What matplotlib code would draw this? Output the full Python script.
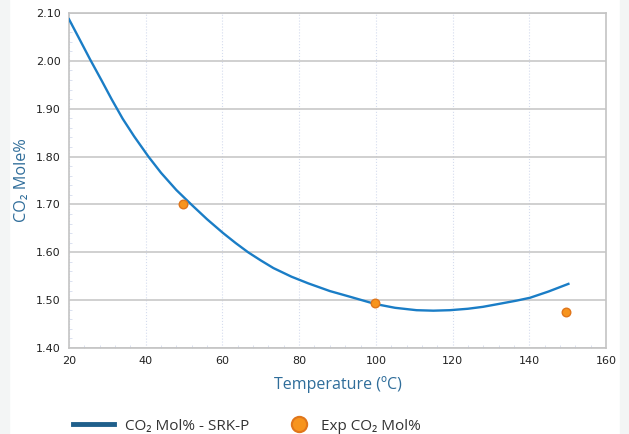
import numpy as np
import matplotlib.pyplot as plt
from matplotlib.ticker import MultipleLocator, FormatStrFormatter
from matplotlib.lines import Line2D
from matplotlib.patches import Rectangle

# SRK-P model curve
temp_model = [20, 22.5, 25.5, 28.5, 31.1, 34, 37, 40.7, 44, 48, 52, 56,
              60.2, 63.5, 66.7, 70, 73.3, 78, 82.4, 88, 93.3, 99.8, 105,
              110.6, 115, 119.3, 124, 127.9, 132, 136.7, 140.2, 145, 150.2]
co2_model = [2.087, 2.049, 2.003, 1.959, 1.920, 1.879, 1.842, 1.80, 1.766,
             1.730, 1.699, 1.669, 1.640, 1.619, 1.60, 1.583, 1.567, 1.549,
             1.535, 1.519, 1.507, 1.492, 1.484, 1.479, 1.478, 1.479, 1.482,
             1.486, 1.492, 1.499, 1.505, 1.518, 1.534]

# experimental points
temp_exp = [49.7, 99.8, 149.7]
co2_exp = [1.701, 1.495, 1.475]

line_col = '#1a7dc6'
legend_line_col = '#1f5f8b'
dot_face = '#f7941d'
dot_edge = '#e0761b'
label_col = '#2f6d9a'
fonts = ['Open Sans', 'DejaVu Sans']

fig = plt.figure(figsize=(6.29, 4.34), dpi=100)
fig.patches.append(Rectangle((0, 0), 9/629, 1, transform=fig.transFigure,
                             color='#f3f5f5', zorder=0))
fig.patches.append(Rectangle((620/629, 0), 9/629, 1, transform=fig.transFigure,
                             color='#f3f5f5', zorder=0))

ax = fig.add_axes([69/629, 86/434, 537/629, 335/434])
ax.plot(temp_model, co2_model, color=line_col, lw=1.7, zorder=3)
ax.scatter(temp_exp, co2_exp, s=38, color=dot_face, edgecolor=dot_edge,
           linewidth=1, zorder=4)

ax.set_xlim(20, 160)
ax.set_ylim(1.40, 2.10)
ax.xaxis.set_major_locator(MultipleLocator(20))
ax.xaxis.set_minor_locator(MultipleLocator(4))
ax.yaxis.set_major_locator(MultipleLocator(0.1))
ax.yaxis.set_minor_locator(MultipleLocator(0.02))
ax.yaxis.set_major_formatter(FormatStrFormatter('%.2f'))

ax.grid(axis='y', which='major', color='#c8c8c8', lw=1.2)
ax.grid(axis='x', which='major', color='#d5dcee', lw=0.8, ls=':')
for s in ax.spines.values():
    s.set_color('#c4c4c4')
    s.set_linewidth(1.2)
ax.tick_params(which='major', length=0, labelsize=8, colors='#222222', pad=6)
ax.tick_params(which='minor', direction='in', length=2, color='#d5dcee')

ax.set_xlabel('Temperature (ºC)', fontsize=11.5, color=label_col,
              family=fonts, labelpad=7)
ax.set_ylabel('CO₂ Mole%', fontsize=11.7, color=label_col,
              family=fonts, labelpad=4)

# legend, two pieces so each can sit where the reference has it
leg_y = 1 - 426/434
leg1 = fig.legend([Line2D([], [], color=legend_line_col, lw=3.5)],
                  ['CO₂ Mol% - SRK-P'], loc='center left',
                  bbox_to_anchor=(65/629, leg_y), frameon=False,
                  borderpad=0, handlelength=2.7, handletextpad=0.75,
                  prop={'family': fonts, 'size': 11}, labelcolor='#333333')
leg2 = fig.legend([Line2D([], [], ls='', marker='o', ms=11, color=dot_face,
                          markeredgecolor=dot_edge, markeredgewidth=1.5)],
                  ['Exp CO₂ Mol%'], loc='center left',
                  bbox_to_anchor=(284/629, leg_y), frameon=False,
                  borderpad=0, handlelength=1.0, handletextpad=0.95,
                  prop={'family': fonts, 'size': 11}, labelcolor='#333333')

fig.savefig('out.png', dpi=100)
